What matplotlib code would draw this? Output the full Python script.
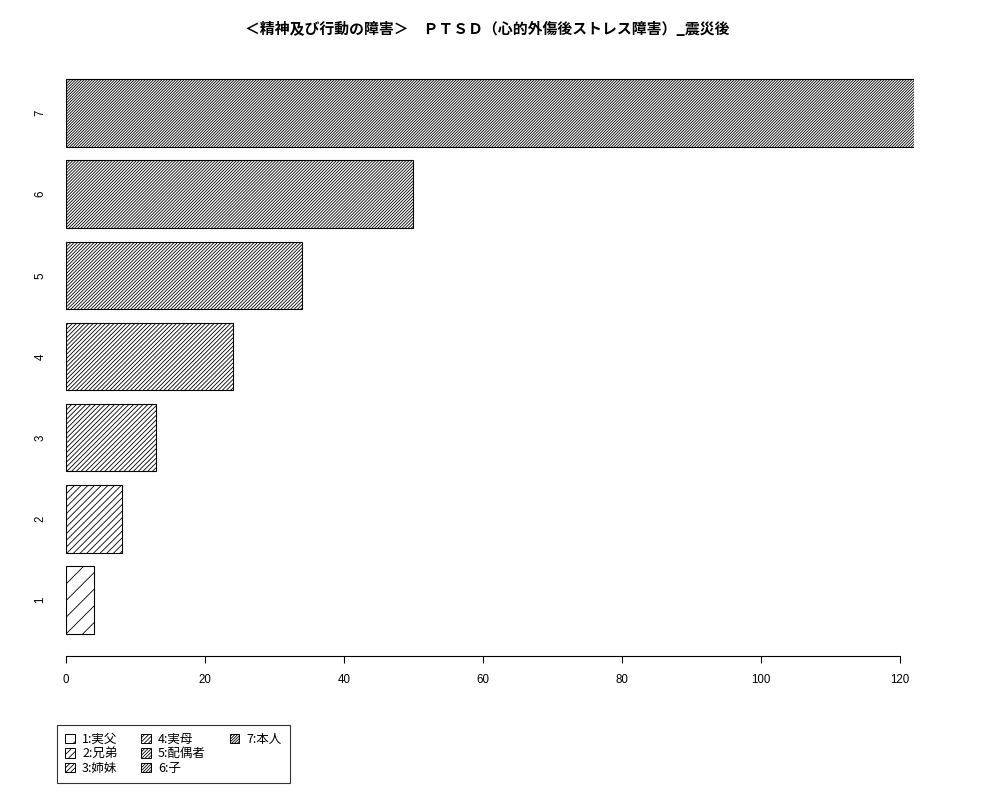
import matplotlib.pyplot as plt
from matplotlib.patches import Patch

plt.rcParams['font.family'] = ['Noto Sans CJK JP', 'DejaVu Sans']
plt.rcParams['hatch.linewidth'] = 0.6

# data
categories = ['1', '2', '3', '4', '5', '6', '7']
values = [4, 8, 13, 24, 34, 50, 122]
legend_labels = ['1:実父', '2:兄弟', '3:姉妹', '4:実母', '5:配偶者', '6:子', '7:本人']
title = '＜精神及び行動の障害＞　ＰＴＳＤ（心的外傷後ストレス障害）_震災後'

# hatch density per bar (denser as in the R plot)
hatch_counts = [2, 5, 7, 8, 10, 11, 12]
hatches = ['/' * n for n in hatch_counts]

fig = plt.figure(figsize=(10, 8), dpi=100)
ax = fig.add_axes([0.066, 1 - 656 / 800, 0.9137 - 0.066, (656 - 57) / 800])

# R style bar positions (width 1, space 0.2)
pos = [1.2 * (i + 1) - 0.5 for i in range(len(values))]
for p, v, h in zip(pos, values, hatches):
    ax.barh(p, v, height=1.0, color='white', edgecolor='black', linewidth=0.8, hatch=h)

ax.set_xlim(0, 122)
ax.set_ylim(-0.128, 8.728)

for s in ['top', 'right', 'left']:
    ax.spines[s].set_visible(False)
ax.spines['bottom'].set_bounds(0, 120)
ax.spines['bottom'].set_linewidth(0.8)

tick_font = ['Liberation Sans', 'DejaVu Sans']
ax.set_xticks(range(0, 121, 20))
ax.set_xticklabels([str(t) for t in range(0, 121, 20)], family=tick_font, fontsize=8.3)
ax.tick_params(axis='x', length=5, width=0.8, pad=8)
ax.set_yticks(pos)
ax.set_yticklabels(categories, rotation=90, va='center', family=tick_font, fontsize=8.3)
ax.tick_params(axis='y', length=0, pad=14)

fig.text(0.487, 1 - 29 / 800, title, ha='center', va='center', fontsize=10.7, fontweight='bold')

handles = [Patch(facecolor='white', edgecolor='black', linewidth=0.7, hatch=h) for h in hatches]
labels = list(legend_labels)
# pad to 9 entries so columns fill 3/3/1 like the original
while len(handles) < 9:
    handles.append(Patch(facecolor='none', edgecolor='none'))
    labels.append('')
fig.legend(handles, labels, ncol=3, loc='upper left', bbox_to_anchor=(0.057, 1 - 725 / 800),
           borderaxespad=0, fontsize=9, frameon=True, fancybox=False, edgecolor='black',
           handlelength=0.75, handleheight=0.75, handletextpad=0.6, columnspacing=1.9,
           labelspacing=0.1, borderpad=0.65)
fig.legends[0].get_frame().set_linewidth(0.8)

fig.savefig('out.png', dpi=100)
